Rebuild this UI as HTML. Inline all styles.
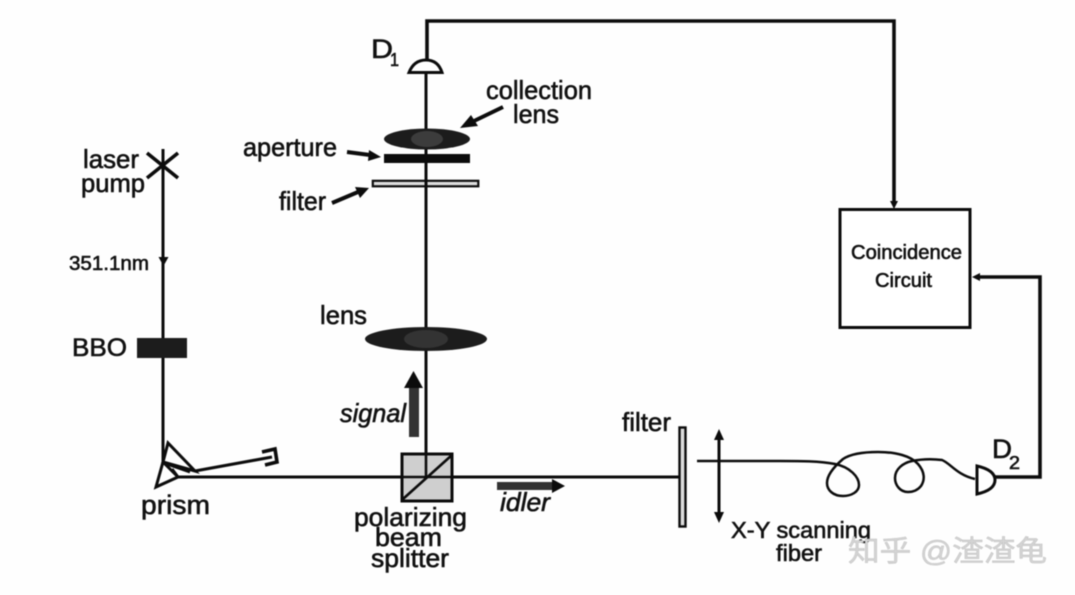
<!DOCTYPE html>
<html><head><meta charset="utf-8"><style>
html,body{margin:0;padding:0;background:#fefefe;width:1075px;height:595px;overflow:hidden}
svg{display:block}
text{font-family:"Liberation Sans","Noto Sans CJK SC",sans-serif;fill:#111;stroke:#111;stroke-width:.6px}
.l{fill:none;stroke:#0c0c0c;stroke-width:3}
.t{fill:none;stroke:#0c0c0c;stroke-width:3.6}
.f{fill:#0c0c0c;stroke:none}
</style></head><body>
<svg width="1075" height="595" viewBox="0 0 1075 595" style="filter:blur(.5px)">
<!-- top wire -->
<path class="t" d="M427 60V21H894V205"/>
<path class="f" d="M890 201h8l-4 8z"/>
<!-- main vertical -->
<path class="l" d="M426 72V477"/>
<!-- D1 -->
<path d="M409 72.500Q414 60 426 60Q438 60 442 72.500Z" fill="#fff" stroke="#0c0c0c" stroke-width="3"/>
<!-- collection lens, aperture, filter -->
<ellipse cx="427" cy="139" rx="43" ry="10.500" fill="#1c1c1c"/>
<ellipse cx="427" cy="139" rx="16" ry="8" fill="#3c3c3c"/>
<rect x="384" y="154" width="86" height="9" fill="#0c0c0c"/>
<rect x="372.800" y="180.800" width="105.500" height="5.500" fill="#ddd" stroke="#0c0c0c" stroke-width="2.200"/>
<path class="l" d="M426 178V190"/>
<!-- pointer arrows -->
<path class="t" d="M503 107L474 121" style="stroke-width:4"/><path class="f" d="M460 128L471 115L478 126z"/>
<path class="t" d="M347 152L370 155" style="stroke-width:4"/><path class="f" d="M381 157L368 161L369 150z"/>
<path class="t" d="M332 203L358 192" style="stroke-width:4"/><path class="f" d="M369 188L360 198L355 187z"/>
<!-- lens -->
<ellipse cx="426" cy="339" rx="61" ry="12" fill="#1c1c1c"/>
<ellipse cx="426" cy="339" rx="22" ry="9" fill="#333"/>
<!-- laser -->
<path class="l" d="M163 149V462"/>
<path class="t" d="M147 153L178 178M178 153L147 178"/>
<path class="f" d="M158.500 257H168.500L163.500 266z"/>
<rect x="137" y="338" width="50" height="20" fill="#1c1c1c"/>
<!-- prism -->
<path class="l" d="M156 487L163 462L178 477Z"/>
<path class="l" d="M163 462L168 443L195 471Z"/>
<path class="l" d="M167 464L190 472M172 469L178 477"/>
<path class="l" d="M195 471L272 457"/>
<path class="t" d="M262 452L275 449L277 462L265 465"/>
<path class="l" d="M178 477H680"/>
<!-- beam splitter -->
<rect x="402" y="454" width="50" height="47" fill="#cfcfcf" stroke="#0c0c0c" stroke-width="3"/>
<path class="l" d="M403 499L452 455M426 454V477M402 477H452" style="stroke-width:2.600"/>
<!-- signal -->
<rect x="409" y="388" width="10" height="49" fill="#333"/>
<path class="f" d="M413.500 371L404 388H423z"/>
<!-- idler -->
<rect x="497" y="482" width="56" height="8" fill="#333"/>
<path class="f" d="M565 486L552 479V493z"/>
<!-- filter right -->
<rect x="679.500" y="427.500" width="6" height="99" fill="#ddd" stroke="#0c0c0c" stroke-width="2.400"/>
<!-- double arrow -->
<path class="l" d="M719 436V516"/>
<path class="f" d="M719 429L714 440H724zM719 523L714 512H724z"/>
<!-- fiber -->
<path fill="none" stroke="#0c0c0c" stroke-width="2.500" d="M697 461L780 461C800 461 820 461 835 464C850 467 859 477 859 485C859 492 851 496 843 496C833 496 827 490 827 483C827 474 836 465 843 459C852 453 866 452 878 452C896 452 911 456 918 464C925 472 925 480 921 486C917 491 912 492 908 492C900 492 895 485 895 478C895 469 903 463 912 461C922 459 934 459 942 460C950 463 957 475 975 479"/>
<!-- D2 -->
<path d="M977 466V494Q995 490 995 480Q995 470 977 466Z" fill="#fff" stroke="#0c0c0c" stroke-width="3"/>
<path class="t" d="M995 477H1040V277H978"/>
<path class="f" d="M972 277L980 273V281z"/>
<!-- box -->
<rect x="840" y="209.500" width="130" height="118" fill="#fff" stroke="#0c0c0c" stroke-width="3"/>
<!-- labels -->
<text x="371" y="58" font-size="27" textLength="22" lengthAdjust="spacingAndGlyphs">D</text>
<text x="390" y="66" font-size="18" textLength="9" lengthAdjust="spacingAndGlyphs">1</text>
<text x="486" y="99" font-size="26" textLength="106" lengthAdjust="spacingAndGlyphs">collection</text>
<text x="513" y="123" font-size="26" textLength="46" lengthAdjust="spacingAndGlyphs">lens</text>
<text x="243" y="156" font-size="26" textLength="94" lengthAdjust="spacingAndGlyphs">aperture</text>
<text x="279" y="210" font-size="26" textLength="47" lengthAdjust="spacingAndGlyphs">filter</text>
<text x="83" y="168" font-size="26" textLength="56" lengthAdjust="spacingAndGlyphs">laser</text>
<text x="81" y="192" font-size="26" textLength="64" lengthAdjust="spacingAndGlyphs">pump</text>
<text x="69" y="270" font-size="20" textLength="80" lengthAdjust="spacingAndGlyphs">351.1nm</text>
<text x="72" y="356" font-size="25" textLength="55" lengthAdjust="spacingAndGlyphs">BBO</text>
<text x="320" y="324" font-size="26" textLength="47" lengthAdjust="spacingAndGlyphs">lens</text>
<text x="340" y="422" font-size="26" font-style="italic" textLength="66" lengthAdjust="spacingAndGlyphs">signal</text>
<text x="500" y="511" font-size="26" font-style="italic" textLength="50" lengthAdjust="spacingAndGlyphs">idler</text>
<text x="141" y="514" font-size="27" textLength="69" lengthAdjust="spacingAndGlyphs">prism</text>
<text x="354" y="526" font-size="26" textLength="113" lengthAdjust="spacingAndGlyphs">polarizing</text>
<text x="375" y="546" font-size="26" textLength="67" lengthAdjust="spacingAndGlyphs">beam</text>
<text x="371" y="567" font-size="26" textLength="78" lengthAdjust="spacingAndGlyphs">splitter</text>
<text x="622" y="431" font-size="26" textLength="49" lengthAdjust="spacingAndGlyphs">filter</text>
<text x="731" y="538" font-size="23" textLength="140" lengthAdjust="spacingAndGlyphs">X-Y scanning</text>
<text x="776" y="561" font-size="23" textLength="46" lengthAdjust="spacingAndGlyphs">fiber</text>
<text x="992" y="458" font-size="27" textLength="20" lengthAdjust="spacingAndGlyphs">D</text>
<text x="1009" y="469" font-size="18" textLength="11" lengthAdjust="spacingAndGlyphs">2</text>
<text x="851" y="259" font-size="20" textLength="111" lengthAdjust="spacingAndGlyphs">Coincidence</text>
<text x="875" y="287" font-size="20" textLength="57" lengthAdjust="spacingAndGlyphs">Circuit</text>
<!-- watermark -->
<text x="848" y="561" font-size="29" textLength="199" lengthAdjust="spacingAndGlyphs" style="fill:#d4d4d4;stroke:#bbb;stroke-width:.4px">知乎 @渣渣龟</text>
</svg>
</body></html>
